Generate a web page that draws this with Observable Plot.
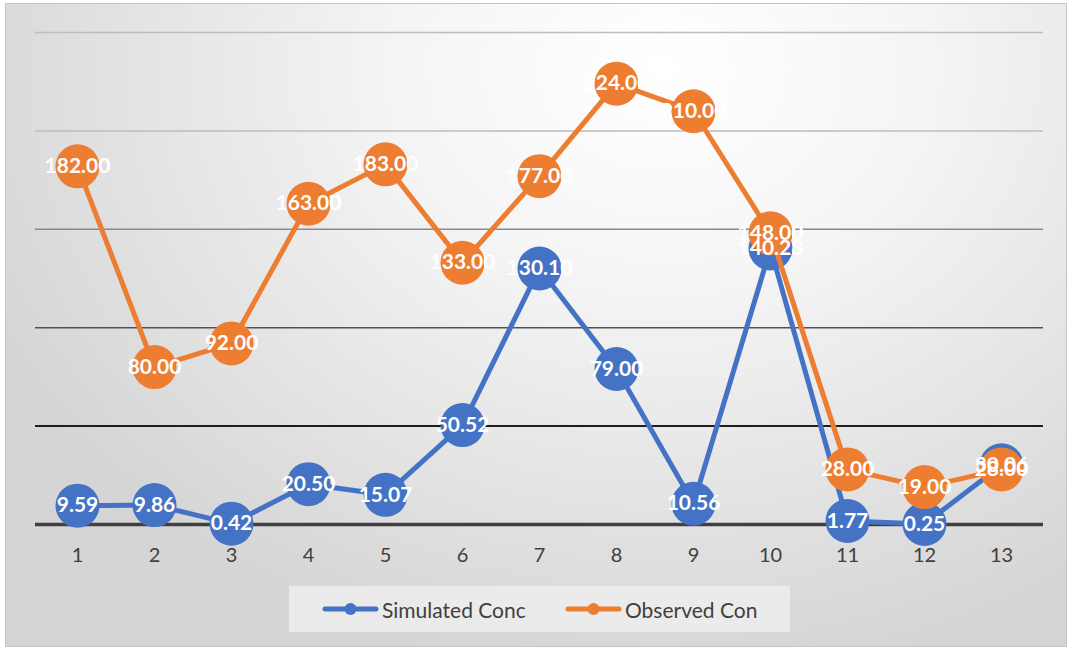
<!DOCTYPE html>
<html><head><meta charset="utf-8">
<script src="https://cdn.jsdelivr.net/npm/d3@7"></script>
<script src="https://cdn.jsdelivr.net/npm/@observablehq/plot@0.6"></script>
<style>
body{margin:0;background:#fff;font-family:Lato,"Open Sans",sans-serif;}
#wrap{position:relative;width:1071px;height:648px;overflow:hidden;}
#bg{position:absolute;left:5px;top:3px;width:1062px;height:644px;box-sizing:border-box;border:1px solid #c4c4c4;
 background:radial-gradient(ellipse 70% 95% at 62% 10%, #ffffff 0%, #f5f5f5 35%, #e4e4e4 70%, #d5d5d5 100%);}
#plot{position:absolute;left:0;top:0;}
#legend{position:absolute;left:289px;top:586px;width:501px;height:46px;background:rgba(240,240,240,0.75);}
.item{position:absolute;top:0;height:46px;display:flex;align-items:center;font-size:21px;color:#404040;}
.item svg{margin-right:3px;}
</style></head>
<body>
<div id="wrap"><div id="bg"></div><div id="plot"></div><div id="legend"></div></div>
<script>
const categories = ["1","2","3","4","5","6","7","8","9","10","11","12","13"];
const seriesNames = ["Simulated Conc", "Observed Con"];
const simulated = [9.59, 9.86, 0.42, 20.50, 15.07, 50.52, 130.10, 79.00, 10.56, 140.28, 1.77, 0.25, 30.06];
const observed = [182.00, 80.00, 92.00, 163.00, 183.00, 133.00, 177.00, 224.00, 210.00, 148.00, 28.00, 19.00, 28.00];
const gridValues = [0, 50, 100, 150, 200, 250];

const colors = {"Simulated Conc": "#4472C4", "Observed Con": "#ED7D31"};
const gridStroke = {0: "#404040", 50: "#1e1e1e", 100: "#525252", 150: "#8a8a8a", 200: "#bdbdbd", 250: "#bdbdbd"};
const gridWidth = {0: 3.5, 50: 2, 100: 1.5, 150: 1.5, 200: 1.5, 250: 1.5};

const simRows = categories.map((c, i) => ({x: c, y: simulated[i], s: seriesNames[0]}));
const obsRows = categories.map((c, i) => ({x: c, y: observed[i], s: seriesNames[1]}));
const gridRows = gridValues.map(v => ({v}));

const fmt = d => d.y.toFixed(2);
const labelStyle = {fill: "white", fontWeight: "bold", fontSize: 21, fontFamily: "Lato, 'Open Sans', sans-serif", textAnchor: "middle"};

const chart = Plot.plot({
  width: 1071, height: 580,
  marginTop: 32, marginBottom: 56, marginLeft: 35, marginRight: 28,
  style: {background: "transparent", fontFamily: "Lato, 'Open Sans', sans-serif", fontSize: "20px", overflow: "visible"},
  x: {type: "point", domain: categories, padding: 0.5, label: null},
  y: {domain: [0, 250], axis: null},
  marks: [
    Plot.ruleY(gridRows.filter(d => d.v !== 0), {y: "v", stroke: d => gridStroke[d.v], strokeWidth: d => gridWidth[d.v]}),
    Plot.ruleY([0], {stroke: gridStroke[0], strokeWidth: gridWidth[0]}),
    Plot.axisX({tickSize: 0, tickPadding: 23, fontSize: 20, fill: "#404040", label: null}),
    Plot.line(simRows, {x: "x", y: "y", stroke: colors[seriesNames[0]], strokeWidth: 5, strokeLinejoin: "round"}),
    Plot.dot(simRows, {x: "x", y: "y", r: 22, fill: colors[seriesNames[0]], stroke: "none"}),
    Plot.line(obsRows, {x: "x", y: "y", stroke: colors[seriesNames[1]], strokeWidth: 5, strokeLinejoin: "round"}),
    Plot.dot(obsRows, {x: "x", y: "y", r: 22, fill: colors[seriesNames[1]], stroke: "none"}),
    Plot.text(simRows, {x: "x", y: "y", text: fmt, ...labelStyle}),
    Plot.text(obsRows, {x: "x", y: "y", text: fmt, ...labelStyle})
  ]
});
document.getElementById("plot").appendChild(chart);

const legend = document.getElementById("legend");
const lefts = [33, 276];
seriesNames.forEach((name, i) => {
  const div = document.createElement("div");
  div.className = "item";
  div.style.left = lefts[i] + "px";
  const c = colors[name];
  div.innerHTML = `<svg width="57" height="14"><line x1="3" y1="7" x2="54" y2="7" stroke="${c}" stroke-width="5" stroke-linecap="round"/><circle cx="28.5" cy="7" r="6" fill="${c}"/></svg><span>${name}</span>`;
  legend.appendChild(div);
});
</script>
</body></html>
